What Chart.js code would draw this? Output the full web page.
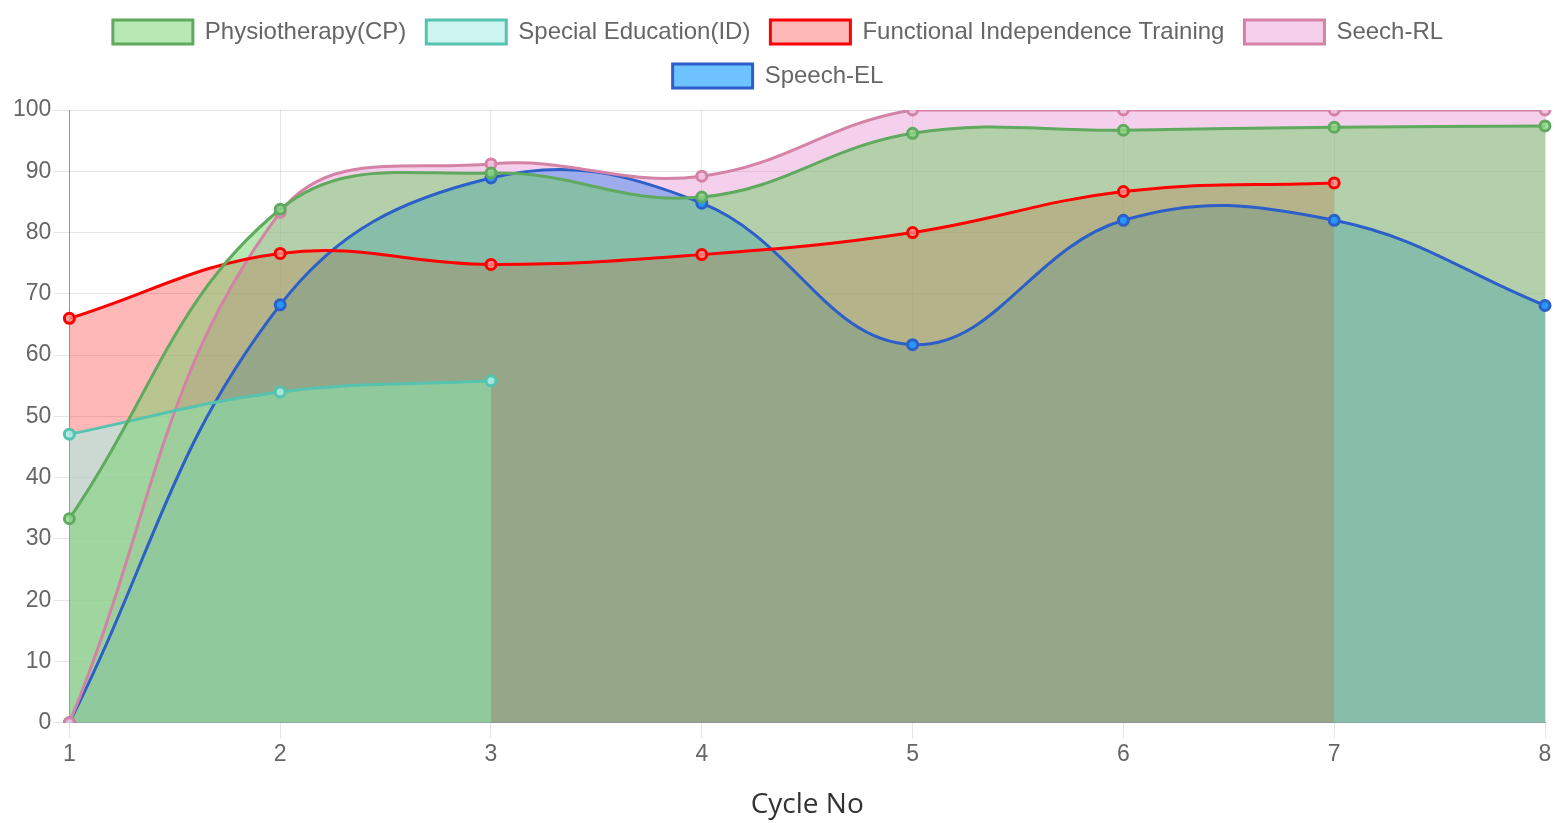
<!DOCTYPE html>
<html>
<head>
<meta charset="utf-8">
<script src="https://cdn.jsdelivr.net/npm/chart.js@4"></script>
<style>
  html, body { margin: 0; padding: 0; background: #fff; }
  #wrap { width: 1557px; height: 823px; position: relative; }
</style>
</head>
<body>
<div id="wrap"><canvas id="grafico"></canvas></div>
<script>
// dados
const ciclos = ['1', '2', '3', '4', '5', '6', '7', '8'];
const fisioterapia = [33.3, 83.8, 89.7, 85.8, 96.2, 96.7, 97.2, 97.4];
const educEspecial = [47.1, 54.0, 55.8];
const independencia = [66.0, 76.6, 74.8, 76.4, 80.0, 86.7, 88.1];
const fonoRL = [0, 83.3, 91.2, 89.2, 100, 100, 100, 100];
const fonoEL = [0, 68.2, 88.9, 84.8, 61.7, 82.0, 82.0, 68.1];
const ticksY = [0, 10, 20, 30, 40, 50, 60, 70, 80, 90, 100];

const fonteArial = 'Liberation Sans, Arial, sans-serif';

const serie = (label, data, borda, fundo, ponto) => ({
    label: label,
    data: data,
    borderColor: borda,
    backgroundColor: fundo,
    pointBackgroundColor: ponto,
    pointBorderColor: borda,
    pointRadius: 5,
    pointBorderWidth: 3,
    borderWidth: 3,
    tension: 0.4,
    fill: 'origin'
});

// espaço extra abaixo da legenda
const margemLegenda = {
    id: 'margemLegenda',
    beforeInit(chart) {
        const fitOriginal = chart.legend.fit;
        chart.legend.fit = function () {
            fitOriginal.bind(this)();
            this.height += 12;
        };
    }
};

new Chart(document.getElementById('grafico'), {
    type: 'line',
    data: {
        labels: ciclos,
        datasets: [
            serie('Physiotherapy(CP)', fisioterapia, 'rgb(95,170,95)', 'rgba(113,209,105,0.5)', 'rgba(140,215,130,0.8)'),
            serie('Special Education(ID)', educEspecial, 'rgb(85,195,175)', 'rgba(170,238,228,0.6)', 'rgba(170,235,225,0.9)'),
            serie('Functional Independence Training', independencia, 'rgb(255,0,0)', 'rgba(255,0,0,0.28)', 'rgba(255,140,140,0.8)'),
            serie('Seech-RL', fonoRL, 'rgb(212,130,165)', 'rgba(230,137,207,0.4)', 'rgba(240,195,225,0.9)'),
            serie('Speech-EL', fonoEL, 'rgb(45,95,200)', 'rgba(54,170,255,0.72)', 'rgb(40,150,255)')
        ]
    },
    plugins: [margemLegenda],
    options: {
        responsive: true,
        maintainAspectRatio: false,
        animation: false,
        layout: { padding: { left: 11, right: 12, top: 0, bottom: 1 } },
        plugins: {
            filler: { drawTime: 'beforeDatasetsDraw' },
            legend: {
                position: 'top',
                labels: {
                    boxWidth: 80,
                    boxHeight: 24,
                    padding: 20,
                    color: '#666',
                    font: { family: fonteArial, size: 24, lineHeight: 1 }
                }
            },
            tooltip: { enabled: false }
        },
        scales: {
            x: {
                grid: { color: 'rgba(0,0,0,0.1)', tickLength: 16 },
                border: { color: 'rgba(0,0,0,0.35)' },
                ticks: {
                    color: '#666',
                    padding: 2,
                    font: { family: fonteArial, size: 23 }
                },
                title: {
                    display: true,
                    text: 'Cycle No',
                    color: '#333',
                    padding: { top: 18, bottom: 0 },
                    font: { family: 'Open Sans, sans-serif', size: 28 }
                }
            },
            y: {
                min: 0,
                max: 100,
                afterBuildTicks: (eixo) => { eixo.ticks = ticksY.map(v => ({ value: v })); },
                grid: { color: 'rgba(0,0,0,0.1)', tickLength: 16 },
                border: { color: 'rgba(0,0,0,0.35)' },
                ticks: {
                    color: '#666',
                    padding: 2,
                    font: { family: fonteArial, size: 23 }
                }
            }
        }
    }
});
</script>
</body>
</html>
